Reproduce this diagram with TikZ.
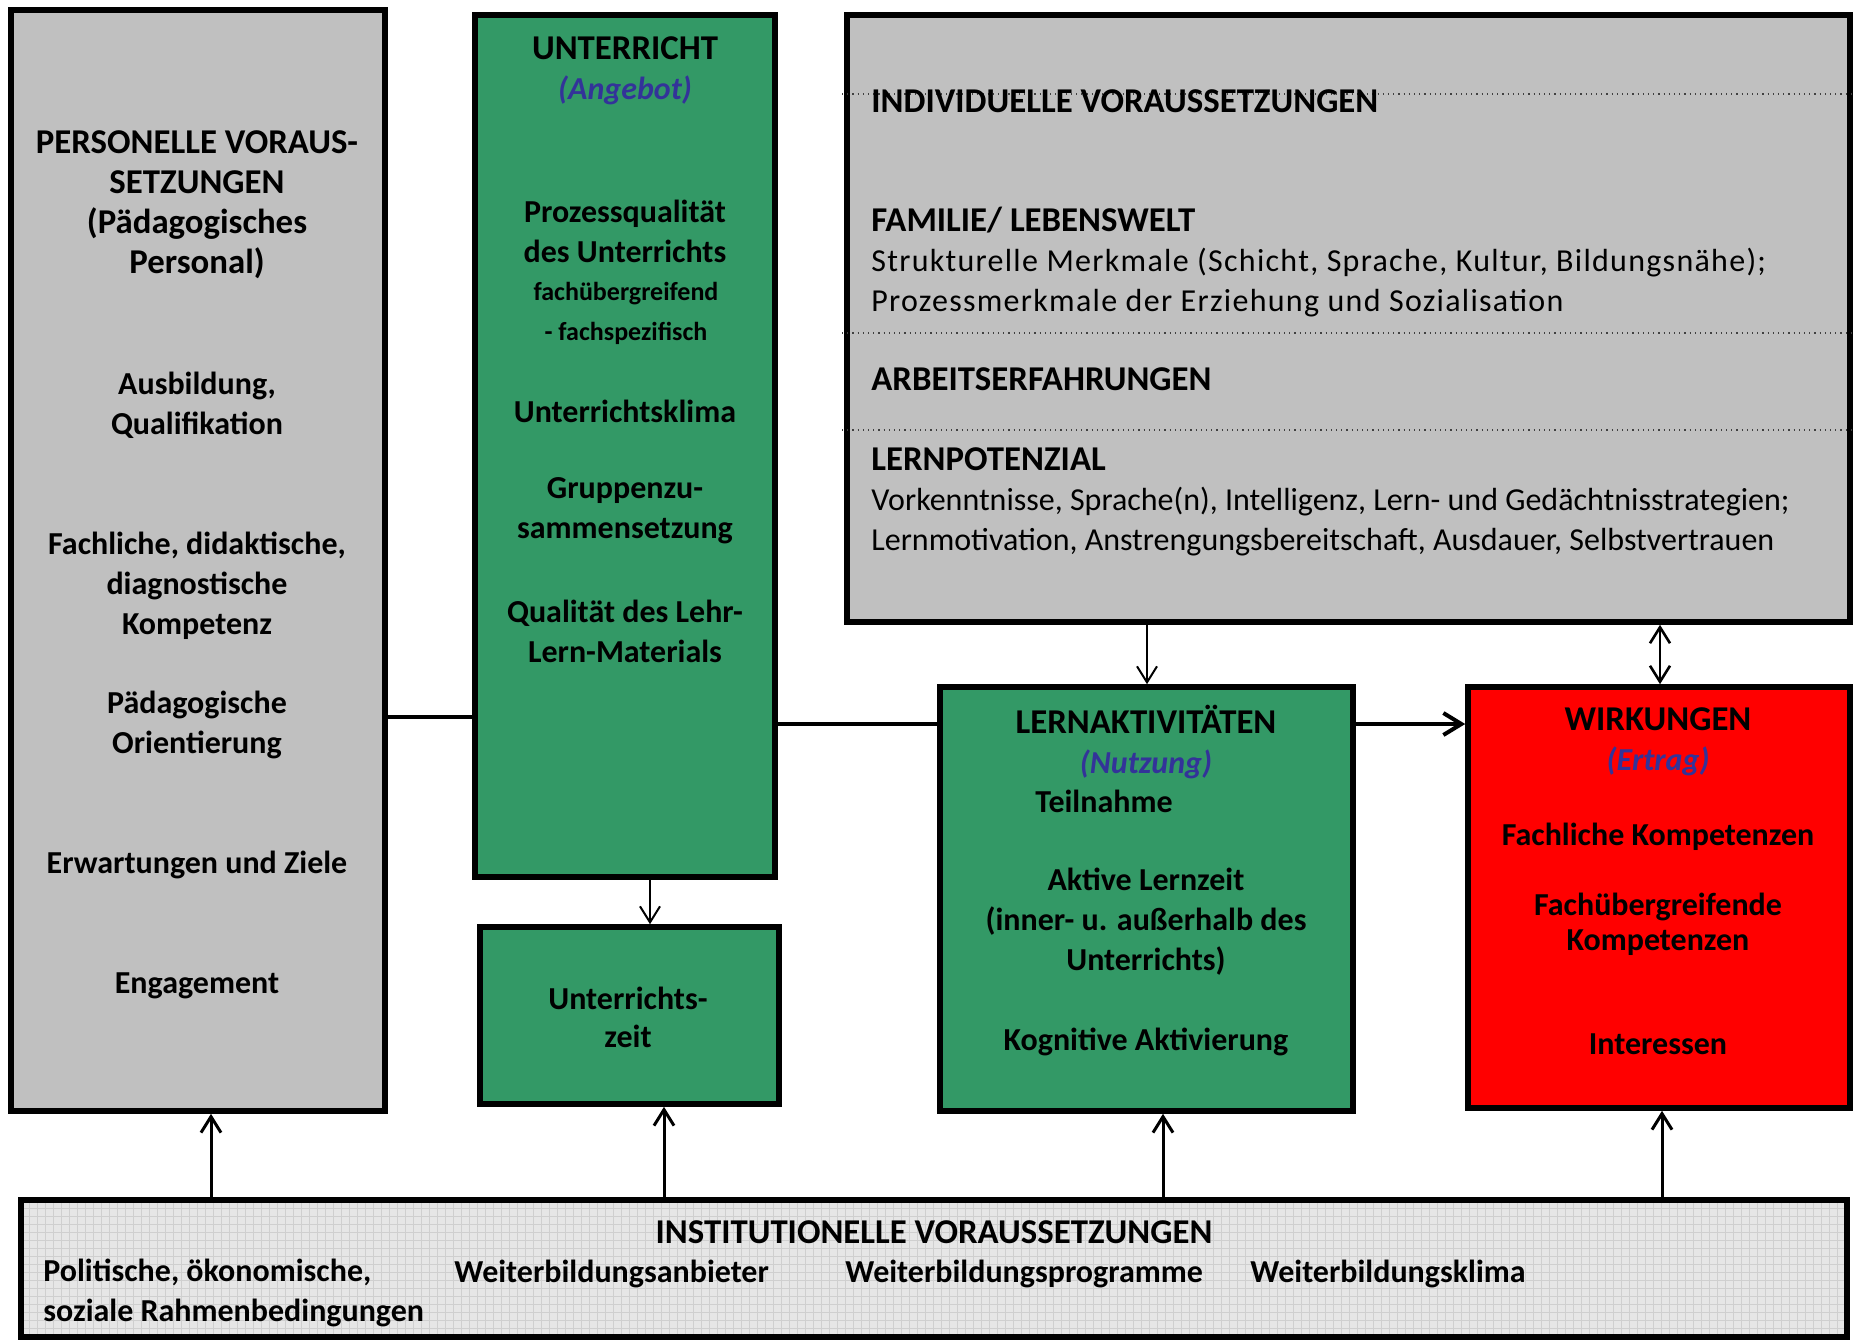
\documentclass[tikz,border=0pt]{standalone}
\usepackage{fontspec}
\setmainfont{Carlito}
\usetikzlibrary{arrows.meta,fit}
\definecolor{boxgray}{HTML}{C0C0C0}
\definecolor{boxgreen}{HTML}{339966}
\definecolor{boxred}{HTML}{FF0000}
\definecolor{subblue}{HTML}{333399}
\definecolor{gridbg}{HTML}{E6E6E6}
\definecolor{gridln}{HTML}{CFCFCF}
\newcommand{\hd}{\fontsize{17.4}{20}\selectfont}
\begin{document}
\begin{tikzpicture}[x=0.5pt,y=-0.5pt,
  box/.style={draw=black,line width=2.8pt,inner sep=0pt},
  gbox/.style={box,fill=boxgray},
  grbox/.style={box,fill=boxgreen},
  rbox/.style={box,fill=boxred},
  txt/.style={inner sep=0pt,align=center,font=\bfseries\fontsize{16}{20}\selectfont},
  ltxt/.style={inner sep=0pt,align=left,anchor=west,font=\fontsize{16}{20}\selectfont},
  lbtxt/.style={inner sep=0pt,align=left,anchor=west,font=\bfseries\fontsize{16}{20}\selectfont},
  smalltxt/.style={inner sep=0pt,align=center,font=\bfseries\fontsize{13}{20}\selectfont},
  thk/.style={line width=2pt},
  tarr/.style={line width=1pt,-{Straight Barb[length=8pt,width=10pt]}},
  marr/.style={line width=1.5pt,-{Straight Barb[length=8pt,width=10pt]}},
  dotln/.style={dotted,line width=0.6pt,black!75}
]
\useasboundingbox (0,0) rectangle (1854,1340);

% boxes
\node[gbox, fit={(11,10) (385,1111)}] (pers) {};
\node[grbox, fit={(475,15) (775,877)}] (unt) {};
\node[grbox, fit={(480,927) (779,1104)}] (zeit) {};
\node[gbox, fit={(847,15) (1850,622)}] (indiv) {};
\node[grbox, fit={(940,687) (1353,1111)}] (lern) {};
\node[rbox, fit={(1468,687) (1850,1108)}] (wirk) {};

% institutional box with grid
\fill[gridbg] (21,1200) rectangle (1847,1337);
\begin{scope}
\clip (21,1200) rectangle (1847,1337);
\foreach \gx in {29,37,...,1847} \draw[gridln,line width=0.4pt] (\gx,1200) -- (\gx,1337);
\foreach \gy in {1208,1216,...,1337} \draw[gridln,line width=0.4pt] (21,\gy) -- (1847,\gy);
\end{scope}
\node[box, fit={(21,1200) (1847,1337)}] (inst) {};

% dotted separators
\coordinate (d0) at (842,94);
\coordinate (d1) at (842,333);
\coordinate (d2) at (842,430);
\draw[dotln] (d0) -- (d0 -| indiv.east);
\draw[dotln] (d1) -- (d1 -| indiv.east);
\draw[dotln] (d2) -- (d2 -| indiv.east);

% texts: personal
\node[txt,font=\bfseries\hd] (p1) at (197,205) {PERSONELLE VORAUS-\\SETZUNGEN\\(Pädagogisches\\Personal)};
\node[txt] (p2) at (197,405) {Ausbildung,\\Qualifikation};
\node[txt] (p3) at (197,586) {Fachliche, didaktische,\\diagnostische\\Kompetenz};
\node[txt] (p4) at (197,725) {Pädagogische\\Orientierung};
\node[txt] (p5) at (197,865) {Erwartungen und Ziele};
\node[txt] (p6) at (197,986) {Engagement};

% texts: Unterricht
\node[txt] (u1) at (625,71) {{\hd UNTERRICHT}\\{\color{subblue}\itshape (Angebot)}};
\node[txt] (u2) at (625,231) {Prozessqualität\\des Unterrichts};
\node[smalltxt] (u3) at (626,313) {fachübergreifend\\- fachspezifisch};
\node[txt] (u4) at (625,411) {Unterrichtsklima};
\node[txt] (u5) at (625,511) {Gruppenzu-\\sammensetzung};
\node[txt] (u6) at (625,631) {Qualität des Lehr-\\Lern-Materials};

% Unterrichtszeit
\node[txt,font=\bfseries\fontsize{16}{19}\selectfont] (z1) at (628,1017) {Unterrichts-\\zeit};

% individual
\node[lbtxt,font=\bfseries\hd] (i1) at (871,101) {INDIVIDUELLE VORAUSSETZUNGEN};
\node[ltxt] (i2) at (871,262) {{\bfseries\hd FAMILIE/ LEBENSWELT}\\\addfontfeature{LetterSpace=4}Strukturelle Merkmale (Schicht, Sprache, Kultur, Bildungsnähe);\\\addfontfeature{LetterSpace=4}Prozessmerkmale der Erziehung und Sozialisation};
\node[lbtxt,font=\bfseries\hd] (i3) at (871,379) {ARBEITSERFAHRUNGEN};
\node[ltxt] (i4) at (871,502) {{\bfseries\hd LERNPOTENZIAL}\\Vorkenntnisse, Sprache(n), Intelligenz, Lern- und Gedächtnisstrategien;\\Lernmotivation, Anstrengungsbereitschaft, Ausdauer, Selbstvertrauen};

% Lernaktivitaeten
\node[txt] (l1) at (1146,742) {{\hd LERNAKTIVITÄTEN}\\{\color{subblue}\itshape (Nutzung)}};
\node[txt] (l2) at (1104,801) {Teilnahme};
\node[txt] (l3) at (1146,922) {Aktive Lernzeit\\(inner- u. außerhalb des\\Unterrichts)};
\node[txt] (l4) at (1146,1042) {Kognitive Aktivierung};

% Wirkungen
\node[txt] (w1) at (1658,742) {{\hd WIRKUNGEN}\\{\color{subblue}\itshape (Ertrag)}};
\node[txt] (w2) at (1658,837) {Fachliche Kompetenzen};
\node[txt,font=\bfseries\fontsize{16}{17.5}\selectfont] (w3) at (1658,924) {Fachübergreifende\\Kompetenzen};
\node[txt] (w4) at (1658,1044) {Interessen};

% institutional texts
\node[txt,font=\bfseries\hd] (n1) at (934,1232) {INSTITUTIONELLE VORAUSSETZUNGEN};
\node[lbtxt] (n2) at (43,1293) {Politische, ökonomische,\\soziale Rahmenbedingungen};
\node[lbtxt] (n3) at (454,1274) {Weiterbildungsanbieter};
\node[lbtxt] (n4) at (845,1274) {Weiterbildungsprogramme};
\node[lbtxt] (n5) at (1250,1274) {Weiterbildungsklima};

% connectors
\coordinate (h1) at (0,717);
\coordinate (h2) at (0,724);
\draw[thk] (pers.east |- h1) -- (unt.west |- h1);
\draw[thk] (unt.east |- h2) -- (lern.west |- h2);
\draw[thk,-{Straight Barb[length=9pt,width=11pt]}] (lern.east |- h2) -- (wirk.west |- h2);

\coordinate (v1) at (650,0);
\coordinate (v2) at (1147,0);
\coordinate (v3) at (1660,0);
\draw[tarr] (unt.south -| v1) -- (zeit.north -| v1);
\draw[tarr] (indiv.south -| v2) -- (lern.north -| v2);
\draw[line width=1.3pt,{Straight Barb[length=8pt,width=10pt]}-{Straight Barb[length=8pt,width=10pt]}] (indiv.south -| v3) -- (wirk.north -| v3);

\coordinate (a1) at (211,0);
\coordinate (a2) at (664,0);
\coordinate (a3) at (1163,0);
\coordinate (a4) at (1662,0);
\draw[marr] (inst.north -| a1) -- (pers.south -| a1);
\draw[marr] (inst.north -| a2) -- (zeit.south -| a2);
\draw[marr] (inst.north -| a3) -- (lern.south -| a3);
\draw[marr] (inst.north -| a4) -- (wirk.south -| a4);
\end{tikzpicture}
\end{document}
